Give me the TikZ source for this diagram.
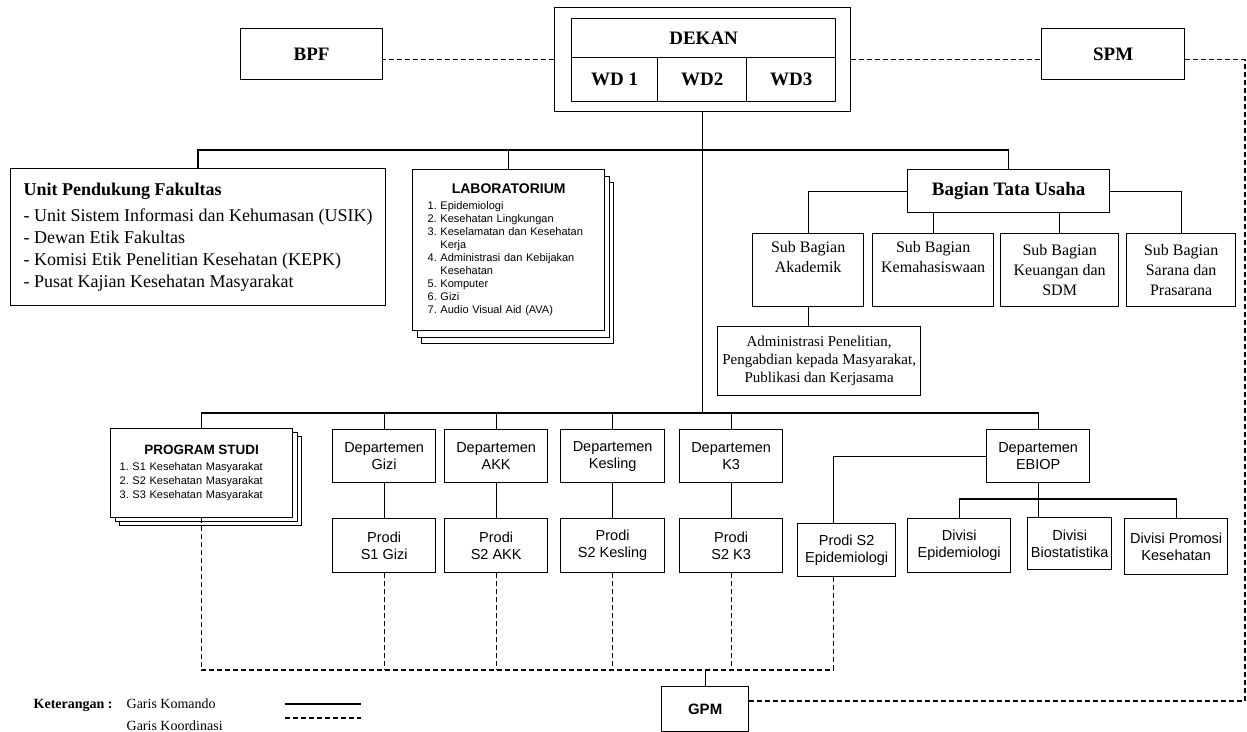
\documentclass[tikz,border=0pt]{standalone}
\usepackage{fontspec}
\setmainfont{Liberation Serif}
\setsansfont{Liberation Sans}
\usetikzlibrary{positioning,shadows}
\newcommand{\fsz}[2]{\fontsize{#1}{#2}\selectfont}

\begin{document}
\frenchspacing
\begin{tikzpicture}[x=1pt, y=-1pt, line width=1.3pt,
	b/.style={draw, anchor=north west, inner sep=0pt, align=center},
	tb/.style={b, font=\fsz{19}{22}\bfseries},
	sb/.style={b, font=\fsz{16}{20}},
	ab/.style={b, font=\sffamily\fsz{14.5}{17}},
	stack/.style 2 args={general shadow={shadow xshift=2*#1, shadow yshift=-2*#2, draw, fill=white}, general shadow={shadow xshift=#1, shadow yshift=-#2, draw, fill=white}},
	koord/.style={dash pattern=on 5pt off 3pt}]
		\useasboundingbox (0,0) rectangle (1247,731);

		% pimpinan
		\node[tb, minimum width=142pt, minimum height=51pt] (bpf) at (240,28) {BPF};
		\node[b, minimum width=296pt, minimum height=104pt] (dek) at (554,7) {};
		\node[tb, minimum width=264pt, minimum height=39pt] (dekan) at (571,18) {DEKAN};
		\node[tb, minimum width=86pt, minimum height=44pt] (wd1) at (571,57) {WD 1};
		\node[tb, minimum width=89pt, minimum height=44pt] (wd2) at (657,57) {WD2};
		\node[tb, minimum width=89pt, minimum height=44pt] (wd3) at (746,57) {WD3};
		\node[tb, minimum width=143pt, minimum height=51pt] (spm) at (1041,28) {SPM};

		% unit, lab, tata usaha
		\node[b, minimum width=372pt, minimum height=137pt, align=left, inner xsep=13pt, font=\fsz{18}{22}] (unit) at (10,168) {\textbf{Unit Pendukung Fakultas}\\[4pt]- Unit Sistem Informasi dan Kehumasan (USIK)\\- Dewan Etik Fakultas\\- Komisi Etik Penelitian Kesehatan (KEPK)\\- Pusat Kajian Kesehatan Masyarakat};
		\node[b, stack={4.5pt}{6.5pt}, fill=white, minimum height=161pt, text width=162pt, inner xsep=15pt, align=left, font=\sffamily\fsz{11}{13}] (lab) at (412,169) {\makebox[\linewidth][c]{\fsz{14}{16}\bfseries LABORATORIUM}\\[3pt]1. Epidemiologi\\2. Kesehatan Lingkungan\\3. Keselamatan dan Kesehatan\\\hphantom{3. }Kerja\\4. Administrasi dan Kebijakan\\\hphantom{4. }Kesehatan\\5. Komputer\\6. Gizi\\7. Audio Visual Aid (AVA)};
		\node[tb, minimum width=202pt, minimum height=43pt] (tu) at (907,169) {Bagian Tata Usaha};
		\node[sb, minimum width=111pt, minimum height=73pt] (akd) at (752,233) {Sub Bagian\\Akademik\\\strut};
		\node[sb, minimum width=121pt, minimum height=73pt] (kmh) at (872,233) {Sub Bagian\\Kemahasiswaan\\\strut};
		\node[sb, minimum width=118pt, minimum height=73pt] (keu) at (1000,233) {Sub Bagian\\Keuangan dan\\SDM};
		\node[sb, minimum width=109pt, minimum height=73pt] (sar) at (1126,233) {Sub Bagian\\Sarana dan\\Prasarana};
		\node[b, minimum width=203pt, minimum height=69pt, font=\fsz{15}{18}] (adm) at (717,326) {Administrasi Penelitian,\\Pengabdian kepada Masyarakat,\\Publikasi dan Kerjasama};

		% program studi dan departemen
		\node[b, stack={4.5pt}{4pt}, fill=white, minimum height=89pt, text width=164pt, inner xsep=9pt, align=left, font=\sffamily\fsz{11}{14}] (ps) at (110,428) {\makebox[\linewidth][c]{\fsz{13.5}{16}\bfseries PROGRAM STUDI}\\[2pt]1. S1 Kesehatan Masyarakat\\2. S2 Kesehatan Masyarakat\\3. S3 Kesehatan Masyarakat};
		\node[ab, minimum width=103pt, minimum height=53pt] (gizi) at (332,429) {Departemen\\Gizi};
		\node[ab, minimum width=103pt, minimum height=53pt] (akk) at (444,429) {Departemen\\AKK};
		\node[ab, minimum width=104pt, minimum height=53pt] (kesling) at (560,429) {Departemen\\Kesling};
		\node[ab, minimum width=103pt, minimum height=53pt] (k3) at (679,429) {Departemen\\K3};
		\node[ab, minimum width=103pt, minimum height=53pt] (ebiop) at (986,429) {Departemen\\EBIOP};
		\node[ab, minimum width=103pt, minimum height=54pt] (pgizi) at (332,518) {Prodi\\S1 Gizi};
		\node[ab, minimum width=103pt, minimum height=54pt] (pakk) at (444,518) {Prodi\\S2 AKK};
		\node[ab, minimum width=104pt, minimum height=54pt] (pkesling) at (560,518) {Prodi\\S2 Kesling};
		\node[ab, minimum width=103pt, minimum height=54pt] (pk3) at (679,518) {Prodi\\S2 K3};
		\node[ab, minimum width=98pt, minimum height=53pt] (pse) at (797,523) {Prodi S2\\Epidemiologi};
		\node[ab, minimum width=103pt, minimum height=54pt] (dve) at (907,518) {Divisi\\Epidemiologi};
		\node[ab, minimum width=84pt, minimum height=52pt] (dvb) at (1027,517) {Divisi\\Biostatistika};
		\node[ab, minimum width=103pt, minimum height=56pt] (dvp) at (1124,518) {Divisi Promosi\\Kesehatan};
		\node[b, minimum width=87pt, minimum height=45pt, font=\sffamily\bfseries\fsz{15}{18}] (gpm) at (661,686) {GPM};

		% keterangan
		\node[anchor=base west, inner sep=0pt, font=\fsz{14}{16}\bfseries] (ket) at (33,708) {Keterangan :};
		\node[anchor=base west, inner sep=0pt, font=\fsz{14}{16}] (gkom) at (126,708) {Garis Komando};
		\node[anchor=base west, inner sep=0pt, font=\fsz{14}{16}] (gkoo) at (126,730) {Garis Koordinasi};
		\coordinate (lk1) at (285,704);
		\coordinate (lk2) at (361,704);
		\coordinate (lc1) at (285,718);
		\coordinate (lc2) at (361,718);
		\draw (lk1) -- (lk2);
		\draw[koord] (lc1) -- (lc2);

		% garis komando
		\coordinate (tbus) at (0,150);
		\coordinate (dbus) at (0,413);
		\coordinate (vbus) at (0,499);
		\draw (dek.south) -- (dek.south |- dbus);
		\draw (unit.north) -- (unit.north |- tbus) -| (tu.north);
		\draw (lab.north) -- (lab.north |- tbus);
		\draw (tu.west) -| (akd.north);
		\draw (tu.east) -| (sar.north);
		\draw (kmh.north) -- (kmh.north |- tu.south);
		\draw (keu.north) -- (keu.north |- tu.south);
		\draw (akd.south) -- (akd.south |- adm.north);
		\draw (ps.north) -- (ps.north |- dbus) -| (ebiop.north);
		\draw (gizi.north) -- (gizi.north |- dbus);
		\draw (akk.north) -- (akk.north |- dbus);
		\draw (kesling.north) -- (kesling.north |- dbus);
		\draw (k3.north) -- (k3.north |- dbus);
		\draw (gizi.south) -- (gizi.south |- pgizi.north);
		\draw (akk.south) -- (akk.south |- pakk.north);
		\draw (kesling.south) -- (kesling.south |- pkesling.north);
		\draw (k3.south) -- (k3.south |- pk3.north);
		\draw (ebiop.west) -| ([xshift=-13pt]pse.north);
		\draw (ebiop.south) -- (ebiop.south |- dvb.north);
		\draw (dve.north) -- (dve.north |- vbus) -| (dvp.north);

		% garis koordinasi
		\coordinate (kbus) at (0,670);
		\coordinate (rc) at (1245,701);
		\draw[koord] (dek.west) -- (dek.west -| bpf.east);
		\draw[koord] (dek.east) -- (dek.east -| spm.west);
		\draw[koord] (dek.east -| spm.east) -| (rc) -- (rc -| gpm.east);
		\draw[koord] ([xshift=-13pt]pse.south) |- (kbus -| ps.south) -- (ps.south);
		\draw[koord] (pgizi.south) -- (pgizi.south |- kbus);
		\draw[koord] (pakk.south) -- (pakk.south |- kbus);
		\draw[koord] (pkesling.south) -- (pkesling.south |- kbus);
		\draw[koord] (pk3.south) -- (pk3.south |- kbus);
		\draw (gpm.north) -- (gpm.north |- kbus);
	\end{tikzpicture}
\end{document}
